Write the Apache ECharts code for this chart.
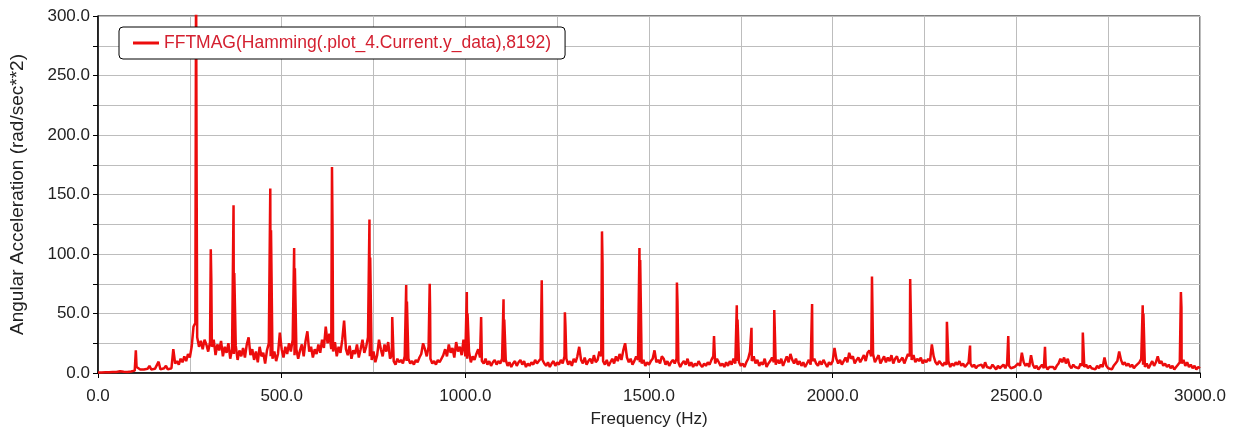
<!DOCTYPE html>
<html>
<head>
<meta charset="utf-8">
<script src="https://cdn.jsdelivr.net/npm/echarts@6/dist/echarts.min.js"></script>
<style>
  html, body { margin: 0; padding: 0; background: #fff; }
  #chart { width: 1235px; height: 432px; }
</style>
</head>
<body>
<div id="chart"></div>
<script>
// spectrum noise floor, one value every 5 Hz from 0 to 3000 Hz
const floorStep = 5;
const floorValues = [
  0.5, 0.6, 0.5, 0.7, 0.6, 0.8, 0.7, 0.9, 0.8, 1.0, 0.9, 1.1, 1.5, 1.2, 1.0, 1.1, 0.9, 1.2, 1.3, 1.6,
  2, 5, 4, 3, 2.5, 3, 2, 3.5, 6, 3, 2.5, 3.5, 4, 9.5, 3, 2.5, 4, 6, 3, 3.5,
  4, 20, 8, 10, 7, 12, 9, 14, 10, 16, 13, 22, 39, 42, 30, 22, 27, 20, 28, 24,
  18, 26, 22, 28, 15, 24, 19, 27, 14, 22, 17, 25, 12, 20, 16, 23, 11, 19, 14, 21,
  13, 24, 30, 15, 20, 11, 18, 9, 22, 14, 17, 8, 19, 25, 14, 12, 18, 10, 16, 34,
  20, 13, 22, 16, 25, 18, 28, 15, 20, 12, 19, 24, 14, 27, 35, 18, 22, 13, 20, 16,
  24, 17, 28, 21, 39, 25, 33, 20, 18, 26, 14, 22, 17, 28, 44, 20, 15, 23, 12, 19,
  16, 24, 13, 20, 28, 17, 22, 30, 14, 11, 18, 9, 15, 28, 20, 14, 24, 18, 26, 12,
  15, 10, 7, 12, 9, 11, 8, 14, 10, 12, 8, 10, 7, 11, 9, 13, 16, 25, 20, 14,
  22, 12, 8, 10, 7, 11, 9, 12, 15, 20, 14, 24, 17, 21, 13, 26, 18, 22, 15, 28,
  14, 12, 18, 9, 14, 11, 16, 20, 13, 10, 8, 12, 7, 10, 6, 9, 11, 7, 10, 8,
  12, 9, 11, 6, 9, 5, 8, 10, 6, 9, 11, 7, 10, 5, 8, 6, 9, 7, 11, 8,
  10, 12, 11, 8, 6, 9, 5, 8, 10, 6, 9, 7, 11, 8, 14, 12, 7, 10, 6, 12,
  9, 14, 22, 11, 8, 13, 7, 10, 12, 8, 15, 9, 11, 18, 14, 10, 7, 11, 6, 9,
  12, 8, 14, 10, 16, 11, 19, 25, 13, 9, 12, 7, 10, 14, 11, 9, 8, 11, 6, 9,
  7, 10, 12, 19, 9, 11, 8, 14, 12, 7, 10, 6, 9, 11, 8, 12, 9, 5, 8, 10,
  7, 12, 6, 9, 5, 8, 6, 10, 7, 5, 8, 6, 9, 7, 11, 14, 8, 12, 9, 6,
  8, 5, 9, 6, 10, 7, 12, 8, 10, 9, 6, 8, 5, 9, 12, 18, 10, 14, 8, 11,
  6, 9, 7, 12, 5, 8, 10, 13, 9, 7, 11, 8, 12, 6, 10, 14, 9, 16, 11, 8,
  12, 7, 10, 6, 9, 5, 8, 11, 7, 10, 12, 8, 6, 10, 7, 11, 8, 5, 9, 7,
  10, 21, 12, 8, 11, 7, 10, 13, 9, 17, 12, 14, 8, 11, 13, 9, 12, 15, 10, 17,
  19, 14, 16, 9, 12, 15, 8, 11, 14, 9, 13, 10, 15, 8, 12, 14, 9, 11, 13, 8,
  12, 16, 14, 11, 15, 9, 12, 10, 13, 8, 11, 9, 12, 10, 24, 14, 9, 7, 10, 8,
  6, 9, 7, 10, 5, 8, 6, 9, 7, 10, 6, 8, 5, 7, 9, 8, 5, 7, 4, 6,
  5, 7, 4, 9, 5, 6, 4, 7, 5, 3, 6, 4, 5, 7, 4, 8, 6, 4, 3, 5,
  4, 8, 6, 17, 9, 6, 8, 5, 15, 7, 4, 6, 3, 5, 7, 4, 6, 3, 5, 4,
  5, 3, 6, 8, 12, 9, 13, 8, 12, 6, 4, 7, 5, 6, 4, 8, 6, 5, 7, 4,
  6, 4, 5, 3, 6, 4, 7, 5, 13, 6, 4, 5, 3, 6, 8, 10, 18, 11, 7, 9,
  6, 8, 5, 7, 4, 6, 5, 9, 12, 7, 5, 8, 4, 7, 10, 6, 9, 14, 8, 10,
  6, 8, 5, 7, 4, 6, 3, 5, 7, 9, 8, 11, 6, 9, 5, 7, 4, 6, 3, 5,
  4
];

// harmonic peaks [frequency Hz, magnitude]
const peaks = [
  [103, 19],
  [267, 340], [268.5, 161],
  [307, 104], [308.5, 78],
  [369, 141], [371, 84],
  [469, 155], [471, 120],
  [534, 105], [536, 88],
  [637, 173], [638.5, 120],
  [739, 129], [741, 97],
  [801, 47],
  [839, 74], [841, 60],
  [903, 75], [904, 55],
  [1004, 68], [1006, 50],
  [1043, 47],
  [1104, 62], [1106, 45],
  [1208, 78], [1209, 50],
  [1271, 51], [1272.5, 40],
  [1372, 119], [1373.5, 92],
  [1474, 105], [1476, 95],
  [1576, 76], [1577.5, 60],
  [1677, 31],
  [1739, 57], [1741, 45],
  [1779, 38],
  [1841, 53],
  [1944, 58],
  [2107, 81], [2108.5, 50],
  [2211, 79], [2212.5, 78],
  [2311, 43],
  [2374, 23],
  [2478, 31],
  [2578, 22],
  [2681, 34],
  [2844, 57], [2846, 50],
  [2948, 68], [2949.5, 55]
];

const seriesName = 'FFTMAG(Hamming(.plot_4.Current.y_data),8192)';

// merge floor + peaks into one sorted line
const points = floorValues
  .map((v, i) => [i * floorStep, v])
  .concat(peaks)
  .sort((a, b) => a[0] - b[0]);

const font = 'Liberation Sans, Arial, sans-serif';

var chart = echarts.init(document.getElementById('chart'));

let option = {
  animation: false,
  backgroundColor: '#fff',
  grid: {
    left: 98,
    right: 35,
    top: 16,
    bottom: 59,
    outerBoundsMode: 'none',
    show: true,
    borderColor: '#000',
    borderWidth: 1
  },
  legend: {
    left: 119,
    top: 27,
    data: [{ name: seriesName, icon: 'rect' }],
    itemWidth: 26,
    itemHeight: 3,
    itemGap: 5,
    padding: [7, 14, 7, 14],
    backgroundColor: '#fff',
    borderColor: '#000',
    borderWidth: 1,
    borderRadius: 4,
    textStyle: { color: '#d42030', fontSize: 17.5, fontFamily: font }
  },
  xAxis: {
    type: 'value',
    min: 0,
    max: 3000,
    interval: 500,
    name: 'Frequency (Hz)',
    nameLocation: 'middle',
    nameGap: 38,
    nameTextStyle: { color: '#222', fontSize: 17, fontFamily: font },
    axisLine: { show: true, lineStyle: { color: '#000', width: 1.5 } },
    axisTick: { show: true, length: 5, lineStyle: { color: '#000' } },
    axisLabel: {
      color: '#222', fontSize: 17, fontFamily: font, margin: 15,
      formatter: v => v.toFixed(1)
    },
    splitLine: { show: true, lineStyle: { color: '#bdbdbd', width: 1 } },
    minorTick: { show: false, splitNumber: 2 },
    minorSplitLine: { show: true, lineStyle: { color: '#bdbdbd', width: 1 } }
  },
  yAxis: {
    type: 'value',
    min: 0,
    max: 300,
    interval: 25,
    name: 'Angular Acceleration (rad/sec**2)',
    nameLocation: 'middle',
    nameGap: 71,
    nameTextStyle: { color: '#222', fontSize: 19, fontFamily: font },
    axisLine: { show: true, lineStyle: { color: '#000', width: 1.5 } },
    axisTick: { show: true, length: 5, lineStyle: { color: '#000' } },
    axisLabel: {
      color: '#222', fontSize: 17, fontFamily: font, margin: 8,
      formatter: v => (v % 50 === 0 ? v.toFixed(1) : '')
    },
    splitLine: { show: true, lineStyle: { color: '#bdbdbd', width: 1 } }
  },
  series: [{
    name: seriesName,
    type: 'line',
    data: points,
    showSymbol: false,
    symbol: 'none',
    sampling: false,
    clip: true,
    itemStyle: { color: '#ec0c0c' },
    lineStyle: { color: '#ec0c0c', width: 2.5 }
  }]
};
chart.setOption(option);
</script>
</body>
</html>
